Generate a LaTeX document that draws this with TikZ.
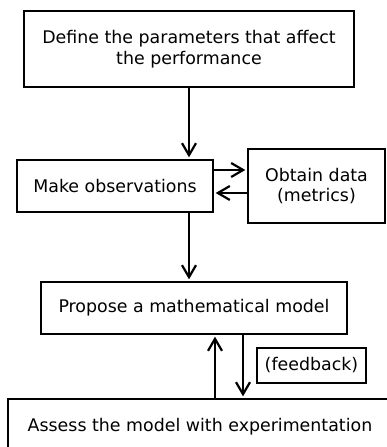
\documentclass[tikz,border=0pt]{standalone}
\usepackage{fontspec}
\setmainfont{DejaVu Sans}
\usetikzlibrary{arrows.meta}
\begin{document}
\begin{tikzpicture}[x=1pt,y=-1pt,
  font=\fontsize{17.4}{20.5}\selectfont,
  box/.style={draw=black, line width=2.7pt, fill=white, rectangle, inner sep=0pt, align=center},
  flow/.style={line width=2.2pt, -{Straight Barb[length=12pt,width=14pt,line width=2.2pt]}, shorten >=1.3pt}
]
\useasboundingbox (0,0) rectangle (387,447);
\fill[white] (0,0) rectangle (387,447);
\clip (0,0) rectangle (387,447);

% process steps
\node[box, minimum width=330pt, minimum height=76pt] (define) at (189,49)
  {Define the parameters that affect\\the performance};
\node[box, minimum width=196pt, minimum height=52pt] (obs) at (115,186)
  {Make observations};
\node[box, minimum width=137pt, minimum height=74pt] (obtain) at (316.5,186)
  {Obtain data\\(metrics)};
\node[box, minimum width=306pt, minimum height=52pt] (propose) at (194,308)
  {Propose a mathematical model};
\node[box, minimum width=109pt, minimum height=35pt] (feedback) at (311.5,365.5)
  {(feedback)};
\node[box, minimum width=384pt, minimum height=56pt] (assess) at (200,427)
  {Assess the model with experimentation};

% connectors
\draw[flow] (define.south) -- (define.south |- obs.north);
\draw[flow] ([yshift=16pt]obs.east) -- ([yshift=16pt]obs.east -| obtain.west);
\draw[flow] ([yshift=-7pt]obtain.west) -- ([yshift=-7pt]obtain.west -| obs.east);
\draw[flow] (obs.south -| define.south) -- (define.south |- propose.north);
\draw[flow] ([xshift=21pt]propose.south |- assess.north) -- ([xshift=21pt]propose.south);
\draw[flow] ([xshift=49pt]propose.south) -- ([xshift=49pt]propose.south |- assess.north);
\end{tikzpicture}
\end{document}
